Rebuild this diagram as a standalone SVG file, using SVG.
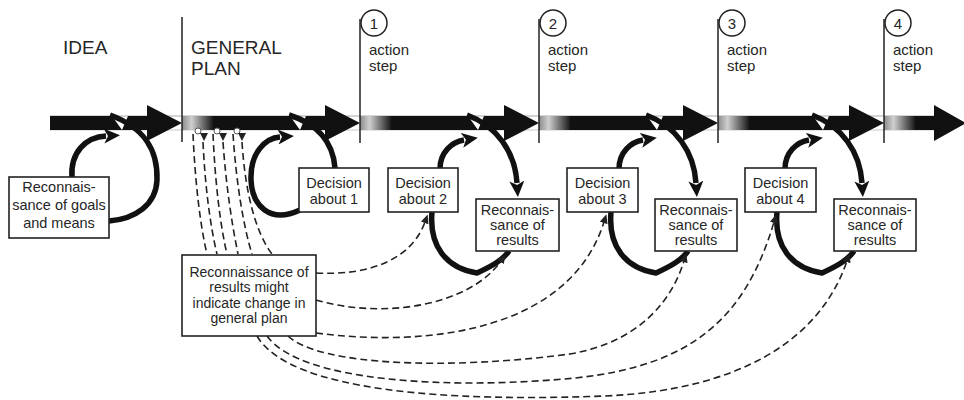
<svg xmlns="http://www.w3.org/2000/svg" width="964" height="400" viewBox="0 0 964 400">
<style>
text{font-family:"Liberation Sans",Arial,sans-serif;fill:#262626}
.hd{font-size:19px}
.st{font-size:15px}
.bx{font-size:14px;text-anchor:middle}
.bx2{font-size:14.5px;text-anchor:middle}
.box{fill:#fff;stroke:#222;stroke-width:1.6}
.band{fill:#111}
.vl{stroke:#222;stroke-width:1.5;fill:none}
.loop{fill:none;stroke:#111;stroke-width:5.5;stroke-linecap:butt}
.dash{fill:none;stroke:#222;stroke-width:1.6;stroke-dasharray:7 4}
</style>
<defs>
<linearGradient id="g" x1="0" y1="0" x2="1" y2="0">
<stop offset="0" stop-color="#8c8c8c"/>
<stop offset="0.3" stop-color="#cfcfcf"/>
<stop offset="1" stop-color="#111"/>
</linearGradient>
<marker id="ah" markerUnits="userSpaceOnUse" markerWidth="17" markerHeight="15" refX="2" refY="7.5" orient="auto">
<path d="M0,0 L16,7.5 L0,15 L4,7.5 z" fill="#111"/>
</marker>
<marker id="dh" markerUnits="userSpaceOnUse" markerWidth="10" markerHeight="8" refX="1" refY="4" orient="auto">
<path d="M0,0 L9,4 L0,8 z" fill="#222"/>
</marker>
</defs>

<g id="band">
<line x1="50" y1="116" x2="940" y2="116" stroke="#aaa" stroke-width="1"/>
<line x1="50" y1="130" x2="940" y2="130" stroke="#bbb" stroke-width="0.8"/>
<polygon class="band" points="50,116 112,116 122,130 50,130"/>
<polygon class="band" points="128,116 147,116 147,105 182,123 147,141 147,130 122,130"/>
<rect x="182" y="116" width="32" height="14" fill="url(#g)"/>
<polygon class="band" points="213,116 290,116 300,130 213,130"/>
<polygon class="band" points="306,116 325,116 325,105 360,123 325,141 325,130 300,130"/>
<rect x="360" y="116" width="32" height="14" fill="url(#g)"/>
<polygon class="band" points="391,116 468,116 478,130 391,130"/>
<polygon class="band" points="484,116 504,116 504,105 539,123 504,141 504,130 478,130"/>
<rect x="539" y="116" width="32" height="14" fill="url(#g)"/>
<polygon class="band" points="570,116 647,116 657,130 570,130"/>
<polygon class="band" points="663,116 683,116 683,105 718,123 683,141 683,130 657,130"/>
<rect x="718" y="116" width="32" height="14" fill="url(#g)"/>
<polygon class="band" points="749,116 813,116 823,130 749,130"/>
<polygon class="band" points="829,116 849,116 849,105 884,123 849,141 849,130 823,130"/>
<rect x="884" y="116" width="32" height="14" fill="url(#g)"/>
<polygon class="band" points="915,116 934,116 934,105 966,123 934,141 934,130 915,130"/>
</g>

<g id="dividers">
<line class="vl" x1="182" y1="17" x2="182" y2="142"/>
<line class="vl" x1="360" y1="19" x2="360" y2="143"/>
<line class="vl" x1="539" y1="19" x2="539" y2="143"/>
<line class="vl" x1="718" y1="19" x2="718" y2="143"/>
<line class="vl" x1="884" y1="19" x2="884" y2="143"/>
</g>

<g id="labels">
<text class="hd" x="63" y="54">IDEA</text>
<text class="hd" x="191" y="54">GENERAL</text>
<text class="hd" x="191" y="75">PLAN</text>
</g>

<g id="step1">
<circle cx="374" cy="23" r="13" fill="#fff" stroke="#222" stroke-width="1.5"/>
<text class="st" x="374" y="28.5" text-anchor="middle">1</text>
<text class="st" x="369" y="55">action</text>
<text class="st" x="369" y="71">step</text>
</g>
<g id="step2">
<circle cx="553" cy="23" r="13" fill="#fff" stroke="#222" stroke-width="1.5"/>
<text class="st" x="553" y="28.5" text-anchor="middle">2</text>
<text class="st" x="548" y="55">action</text>
<text class="st" x="548" y="71">step</text>
</g>
<g id="step3">
<circle cx="732" cy="23" r="13" fill="#fff" stroke="#222" stroke-width="1.5"/>
<text class="st" x="732" y="28.5" text-anchor="middle">3</text>
<text class="st" x="727" y="55">action</text>
<text class="st" x="727" y="71">step</text>
</g>
<g id="step4">
<circle cx="898" cy="23" r="13" fill="#fff" stroke="#222" stroke-width="1.5"/>
<text class="st" x="898" y="28.5" text-anchor="middle">4</text>
<text class="st" x="893" y="55">action</text>
<text class="st" x="893" y="71">step</text>
</g>

<g id="connectors">
<!-- IDEA loop -->
<path class="loop" d="M72,178 C 70,152 86,137 106,136" marker-end="url(#ah)"/>
<path class="loop" d="M110,115 C 145,128 158,150 157,180 C 156,205 135,219 109,221"/>
<!-- stage 1 loop -->
<path class="loop" d="M300,210 C 270,224 252,206 251,180 C 250,152 266,138 280,137" marker-end="url(#ah)"/>
<path class="loop" d="M289,115 C 315,123 333,140 335,168"/>
<!-- stage 2,3,4 loops -->
<g id="loop2">
<path class="loop" d="M440,169 C 440,152 452,142 464,140" marker-end="url(#ah)"/>
<path class="loop" d="M467,115 C 497,126 515,152 517,183" marker-end="url(#ah)"/>
<path class="loop" d="M432,212 C 429,246 446,268 477,273 C 492,266 503,260 509,251"/>
</g>
<g id="loop3" transform="translate(179,0)">
<path class="loop" d="M440,169 C 440,152 452,142 464,140" marker-end="url(#ah)"/>
<path class="loop" d="M467,115 C 497,126 515,152 517,183" marker-end="url(#ah)"/>
<path class="loop" d="M432,212 C 429,246 446,268 477,273 C 492,266 503,260 509,251"/>
</g>
<g id="loop4" transform="translate(345,0)">
<path class="loop" d="M440,169 C 440,152 452,142 464,140" marker-end="url(#ah)"/>
<path class="loop" d="M467,115 C 497,126 515,152 517,183" marker-end="url(#ah)"/>
<path class="loop" d="M432,212 C 429,246 446,268 477,273 C 492,266 503,260 509,251"/>
</g>
<!-- dashed lines from general plan band to box -->
<path class="dash" d="M193,134 C 195,180 200,225 207,254"/>
<path class="dash" d="M203,142 C 205,185 210,225 217,254"/>
<path class="dash" d="M213,134 C 215,180 220,225 227,254"/>
<path class="dash" d="M223,142 C 226,185 232,225 238,254"/>
<path class="dash" d="M233,134 C 236,180 243,225 252,254"/>
<path class="dash" d="M242,142 C 245,190 255,232 272,254"/>
<circle cx="198" cy="131" r="3" fill="#fff" stroke="#555" stroke-width="1"/>
<circle cx="217" cy="131" r="3" fill="#fff" stroke="#555" stroke-width="1"/>
<circle cx="237" cy="131" r="3" fill="#fff" stroke="#555" stroke-width="1"/>
<polygon points="200,133 208,133 204,141" fill="#222"/>
<polygon points="219,133 227,133 223,141" fill="#222"/>
<polygon points="238,133 246,133 242,141" fill="#222"/>
<!-- dashed lines from box to decisions / reconnaissance -->
<path class="dash" d="M316,273 C 372,276 412,258 425,222" marker-end="url(#dh)"/>
<path class="dash" d="M316,300 C 385,320 470,305 501,261" marker-end="url(#dh)"/>
<path class="dash" d="M316,333 C 430,348 570,330 604,222" marker-end="url(#dh)"/>
<path class="dash" d="M288,336 C 320,366 450,370 570,354 C 640,342 672,300 684,261" marker-end="url(#dh)"/>
<path class="dash" d="M267,336 C 300,382 450,390 575,378 C 690,366 745,320 774,222" marker-end="url(#dh)"/>
<path class="dash" d="M257,336 C 290,392 450,402 605,396 C 740,390 820,340 847,261" marker-end="url(#dh)"/>
</g>

<g id="reconGoals">
<rect class="box" x="9" y="177" width="100" height="61"/>
<text class="bx2" x="59" y="192">Reconnais-</text>
<text class="bx2" x="59" y="210">sance of goals</text>
<text class="bx2" x="59" y="228">and means</text>
</g>
<g id="decision1">
<rect class="box" x="299" y="168" width="70" height="44"/>
<text class="bx2" x="334" y="188">Decision</text>
<text class="bx2" x="334" y="204">about 1</text>
</g>
<g id="decision2">
<rect class="box" x="388" y="168" width="70" height="44"/>
<text class="bx2" x="423" y="188">Decision</text>
<text class="bx2" x="423" y="204">about 2</text>
</g>
<g id="decision3">
<rect class="box" x="567" y="168" width="71" height="44"/>
<text class="bx2" x="602.5" y="188">Decision</text>
<text class="bx2" x="602.5" y="204">about 3</text>
</g>
<g id="decision4">
<rect class="box" x="745" y="168" width="71" height="44"/>
<text class="bx2" x="780.5" y="188">Decision</text>
<text class="bx2" x="780.5" y="204">about 4</text>
</g>
<g id="recon2">
<rect class="box" x="476" y="199" width="83" height="52"/>
<text class="bx2" x="517.5" y="215">Reconnais-</text>
<text class="bx2" x="517.5" y="230">sance of</text>
<text class="bx2" x="517.5" y="245">results</text>
</g>
<g id="recon3">
<rect class="box" x="655" y="199" width="82" height="52"/>
<text class="bx2" x="696" y="215">Reconnais-</text>
<text class="bx2" x="696" y="230">sance of</text>
<text class="bx2" x="696" y="245">results</text>
</g>
<g id="recon4">
<rect class="box" x="834" y="199" width="82" height="52"/>
<text class="bx2" x="875" y="215">Reconnais-</text>
<text class="bx2" x="875" y="230">sance of</text>
<text class="bx2" x="875" y="245">results</text>
</g>
<g id="planChange">
<rect class="box" x="182" y="255" width="134" height="81"/>
<text class="bx" x="249" y="277">Reconnaissance of</text>
<text class="bx" x="249" y="292">results might</text>
<text class="bx" x="249" y="308">indicate change in</text>
<text class="bx" x="249" y="323">general plan</text>
</g>
</svg>
